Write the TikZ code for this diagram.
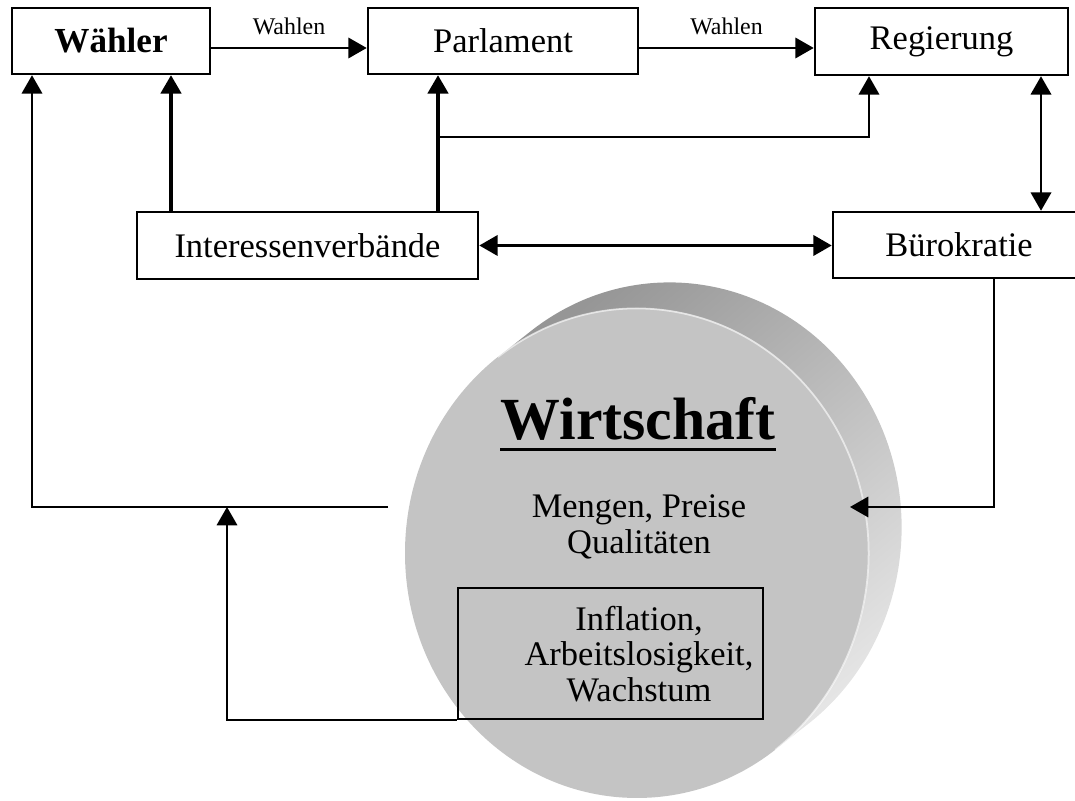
\documentclass[tikz,border=0pt]{standalone}
\usepackage{fontspec}
\setmainfont{Liberation Serif}
\usetikzlibrary{arrows.meta}

\definecolor{scheibe}{RGB}{196,196,196}
\definecolor{randdunkel}{RGB}{150,150,150}
\definecolor{randhell}{RGB}{230,230,230}

\tikzset{
  kasten/.style={draw, line width=0.7pt, inner sep=0pt, minimum height=0.66cm,
    font=\fontsize{9.8}{11}\selectfont},
  schrift/.style={inner sep=0pt, font=\fontsize{9.8}{10.1}\selectfont},
  klein/.style={font=\fontsize{6.8}{8}\selectfont},
  pfeil/.style={-{Triangle[length=5.2pt,width=5.8pt]}, line width=0.6pt},
  dpfeil/.style={{Triangle[length=5.2pt,width=5.8pt]}-{Triangle[length=5.2pt,width=5.8pt]},
    line width=0.65pt},
  dick/.style={line width=0.9pt}
}

\begin{document}
\begin{tikzpicture}[x=0.01cm,y=-0.01cm]
\useasboundingbox (0,0) rectangle (1075,801);
\clip (0,0) rectangle (1075,801);

% Scheibe "Wirtschaft"
\coordinate (wz) at (637,553);
\shade[top color=randdunkel, bottom color=randhell, shading angle=40] (498,357) -- (531,331)
  arc[start angle=233.3, end angle=413.3, x radius=232, y radius=245] -- (776,749) -- cycle;
\fill[scheibe] (wz) ellipse[x radius=232, y radius=245];
\draw[white, opacity=.6, line width=0.5pt] (498,357)
  arc[start angle=233.3, end angle=413.3, x radius=232, y radius=245];

% Kaesten
\node[kasten, minimum width=1.98cm, font=\fontsize{10}{11}\selectfont\bfseries] (waehler) at (111,41) {Wähler};
\node[kasten, minimum width=2.70cm] (parlament) at (503,41) {Parlament};
\node[kasten, minimum width=2.53cm, minimum height=0.67cm] (regierung) at (941.5,41.5) {Regierung};
\node[kasten, minimum width=3.41cm, minimum height=0.67cm] (interessen) at (307.5,245.5) {Interessenverbände};
\node[kasten, minimum width=2.52cm] (buerokratie) at (959,245) {Bürokratie};

% Texte der Scheibe
\node[schrift, font=\fontsize{17}{20}\selectfont\bfseries, anchor=base] (wtitel) at (638,440) {Wirtschaft};
\draw[line width=0.85pt] ([yshift=-2.8pt]wtitel.base west) -- ([yshift=-2.8pt]wtitel.base east);
\node[schrift, align=center] (mengen) at (639,527) {Mengen, Preise\\Qualitäten};
\node[draw, line width=0.6pt, minimum width=3.05cm, minimum height=1.31cm] (makro) at (610.5,653.5) {};
\node[schrift, align=center] (makrotext) at (639,654) {Inflation,\\Arbeitslosigkeit,\\Wachstum};

% Hilfspunkte
\coordinate (wahl) at (0,48);
\coordinate (xw) at (171,0);
\coordinate (xp) at (438,0);
\coordinate (xr) at (869,0);
\coordinate (xb) at (1041,0);
\coordinate (xu) at (994,0);
\coordinate (xl) at (32,0);
\coordinate (xm) at (227,0);
\coordinate (knick) at (438,137);
\coordinate (zeile) at (0,507);
\coordinate (wlinks) at (388,507);
\coordinate (wrechts) at (850,507);

% Wahlen
\draw[pfeil] (waehler.east |- wahl) -- node[above, klein] {Wahlen} (parlament.west |- wahl);
\draw[pfeil] (parlament.east |- wahl) -- node[above, klein] {Wahlen} (regierung.west |- wahl);

% Einfluss der Verbaende
\draw[pfeil, dick] (interessen.north -| xw) -- (waehler.south -| xw);
\draw[pfeil, dick] (interessen.north -| xp) -- (parlament.south -| xp);
\draw[pfeil] (knick) -| (regierung.south -| xr);

% Regierung, Buerokratie
\draw[dpfeil] (regierung.south -| xb) -- (buerokratie.north -| xb);
\draw[dpfeil] (interessen.east) -- (interessen.east -| buerokratie.west);
\draw[pfeil] (buerokratie.south -| xu) |- (wrechts);

% Rueckwirkung der Wirtschaft
\draw[pfeil] (wlinks) -| (waehler.south -| xl);
\draw[pfeil] (makro.south west) -| (xm |- zeile);
\end{tikzpicture}
\end{document}
